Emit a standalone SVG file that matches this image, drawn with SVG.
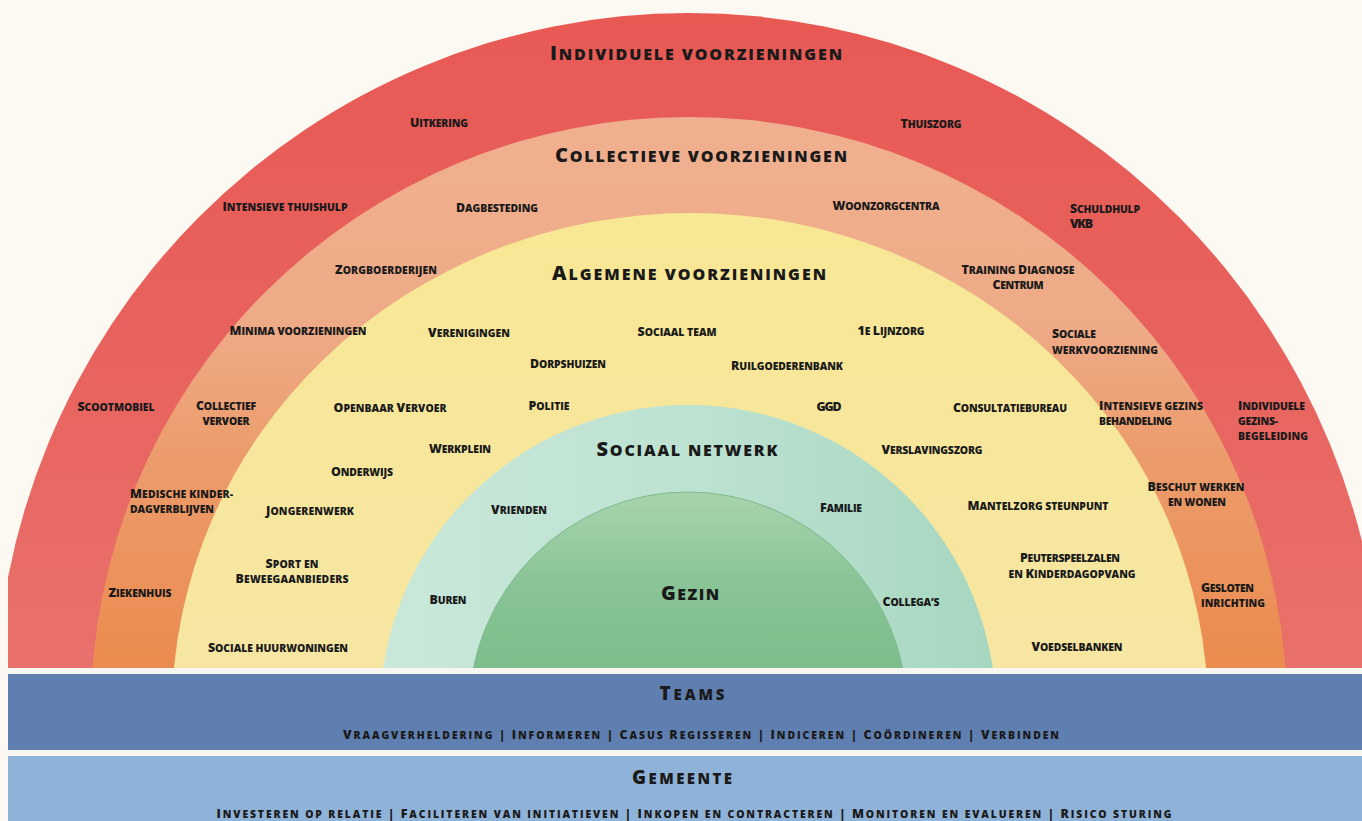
<svg xmlns="http://www.w3.org/2000/svg" width="1362" height="821" viewBox="0 0 1362 821">
<defs>
<style>
.t{font-family:"Open Sans","Liberation Sans",sans-serif;font-weight:800;text-transform:uppercase;fill:#1a1a1a;text-anchor:middle;font-size:10.4px}
.t .C{font-size:12.4px}
.l{text-anchor:start}
.h{font-size:16px}
.h .C{font-size:20px}
.m{font-size:15px}
.m .C{font-size:19px}
</style>
<clipPath id="clip"><rect x="8" y="0" width="1354" height="668"/></clipPath>
<linearGradient id="gRed" gradientUnits="userSpaceOnUse" x1="0" y1="13" x2="0" y2="668">
<stop offset="0" stop-color="#e85954"/><stop offset="0.5" stop-color="#e8625d"/><stop offset="1" stop-color="#e9716b"/>
</linearGradient>
<linearGradient id="gOr" gradientUnits="userSpaceOnUse" x1="0" y1="117" x2="0" y2="668">
<stop offset="0" stop-color="#f0b08f"/><stop offset="0.39" stop-color="#eeaa86"/><stop offset="0.6" stop-color="#ec9d6d"/><stop offset="1" stop-color="#eb8b4f"/>
</linearGradient>
<linearGradient id="gYe" gradientUnits="userSpaceOnUse" x1="0" y1="213" x2="0" y2="668">
<stop offset="0" stop-color="#f8e794"/><stop offset="1" stop-color="#f6e6a2"/>
</linearGradient>
<linearGradient id="gTe" gradientUnits="userSpaceOnUse" x1="381" y1="0" x2="997" y2="0">
<stop offset="0" stop-color="#c9e8da"/><stop offset="0.5" stop-color="#bde2d1"/><stop offset="1" stop-color="#a6d6c0"/>
</linearGradient>
<linearGradient id="gGr" gradientUnits="userSpaceOnUse" x1="0" y1="492" x2="0" y2="668">
<stop offset="0" stop-color="#a8d4ad"/><stop offset="0.5" stop-color="#8ac597"/><stop offset="1" stop-color="#7dbd8c"/>
</linearGradient>
</defs>
<rect x="0" y="0" width="1362" height="821" fill="#fcf9f2"/>
<rect x="8" y="668" width="1354" height="153" fill="#f7f6f1"/>

<g clip-path="url(#clip)">
<g id="individuele">
<ellipse cx="689" cy="712" rx="694" ry="699" fill="url(#gRed)"/>
</g>
<g id="collectieve">
<ellipse cx="689" cy="712" rx="598" ry="595" fill="url(#gOr)"/>
</g>
<g id="algemene">
<ellipse cx="690" cy="712" rx="518" ry="499" fill="url(#gYe)"/>
</g>
<g id="sociaal-netwerk">
<ellipse cx="688" cy="713" rx="308" ry="308" fill="url(#gTe)"/>
</g>
<g id="gezin">
<ellipse cx="688" cy="712" rx="219" ry="220" fill="url(#gGr)" stroke="#7db98b" stroke-width="1"/>
</g>
</g>

<g id="labels-individuele">
<text class="t h" x="696" y="60" textLength="292"><tspan class="C">I</tspan>ndividuele voorzieningen</text>
<text class="t" x="439" y="127" textLength="58"><tspan class="C">U</tspan>itkering</text>
<text class="t" x="931" y="128" textLength="61"><tspan class="C">T</tspan>huiszorg</text>
<text class="t" x="285" y="211" textLength="125"><tspan class="C">I</tspan>ntensieve thuishulp</text>
<text class="t l" x="1070" y="213" textLength="70"><tspan class="C">S</tspan>chuldhulp</text>
<text class="t l" x="1070" y="228" textLength="23"><tspan class="C">VKB</tspan></text>
<text class="t" x="116" y="411" textLength="77"><tspan class="C">S</tspan>cootmobiel</text>
<text class="t l" x="1238" y="410" textLength="67"><tspan class="C">I</tspan>ndividuele</text>
<text class="t l" x="1238" y="425" textLength="40">gezins-</text>
<text class="t l" x="1238" y="440" textLength="70">begeleiding</text>
<text class="t" x="140" y="597" textLength="63"><tspan class="C">Z</tspan>iekenhuis</text>
</g>

<g id="labels-collectieve">
<text class="t h" x="701" y="162" textLength="292"><tspan class="C">C</tspan>ollectieve voorzieningen</text>
<text class="t" x="497" y="212" textLength="82"><tspan class="C">D</tspan>agbesteding</text>
<text class="t" x="886" y="210" textLength="107"><tspan class="C">W</tspan>oonzorgcentra</text>
<text class="t" x="386" y="274" textLength="102"><tspan class="C">Z</tspan>orgboerderijen</text>
<text class="t" x="1018" y="274" textLength="113"><tspan class="C">T</tspan>raining <tspan class="C">D</tspan>iagnose</text>
<text class="t" x="1018" y="289" textLength="51"><tspan class="C">C</tspan>entrum</text>
<text class="t" x="298" y="335" textLength="137"><tspan class="C">M</tspan>inima voorzieningen</text>
<text class="t l" x="1052" y="338" textLength="44"><tspan class="C">S</tspan>ociale</text>
<text class="t l" x="1052" y="354" textLength="106">werkvoorziening</text>
<text class="t" x="226" y="410" textLength="60"><tspan class="C">C</tspan>ollectief</text>
<text class="t" x="226" y="425" textLength="47">vervoer</text>
<text class="t l" x="1099" y="410" textLength="104"><tspan class="C">I</tspan>ntensieve gezins</text>
<text class="t l" x="1099" y="425" textLength="73">behandeling</text>
<text class="t l" x="130" y="498" textLength="103"><tspan class="C">M</tspan>edische kinder-</text>
<text class="t l" x="130" y="513" textLength="84">dagverblijven</text>
<text class="t" x="1196" y="491" textLength="97"><tspan class="C">B</tspan>eschut werken</text>
<text class="t" x="1197" y="506" textLength="58">en wonen</text>
<text class="t l" x="1201" y="592" textLength="53"><tspan class="C">G</tspan>esloten</text>
<text class="t l" x="1201" y="607" textLength="64">inrichting</text>
</g>

<g id="labels-algemene">
<text class="t h" x="689" y="280" textLength="274"><tspan class="C">A</tspan>lgemene voorzieningen</text>
<text class="t" x="469" y="337" textLength="82"><tspan class="C">V</tspan>erenigingen</text>
<text class="t" x="677" y="336" textLength="79"><tspan class="C">S</tspan>ociaal team</text>
<text class="t" x="891" y="335" textLength="67"><tspan class="C">1</tspan>e <tspan class="C">L</tspan>ijnzorg</text>
<text class="t" x="568" y="368" textLength="76"><tspan class="C">D</tspan>orpshuizen</text>
<text class="t" x="787" y="370" textLength="112"><tspan class="C">R</tspan>uilgoederenbank</text>
<text class="t" x="390" y="412" textLength="113"><tspan class="C">O</tspan>penbaar <tspan class="C">V</tspan>ervoer</text>
<text class="t" x="549" y="410" textLength="41"><tspan class="C">P</tspan>olitie</text>
<text class="t" x="829" y="411" textLength="25"><tspan class="C">GGD</tspan></text>
<text class="t" x="1010" y="412" textLength="114"><tspan class="C">C</tspan>onsultatiebureau</text>
<text class="t" x="460" y="453" textLength="62"><tspan class="C">W</tspan>erkplein</text>
<text class="t" x="932" y="454" textLength="101"><tspan class="C">V</tspan>erslavingszorg</text>
<text class="t" x="362" y="476" textLength="62"><tspan class="C">O</tspan>nderwijs</text>
<text class="t" x="310" y="515" textLength="88"><tspan class="C">J</tspan>ongerenwerk</text>
<text class="t" x="1038" y="510" textLength="141"><tspan class="C">M</tspan>antelzorg steunpunt</text>
<text class="t" x="292" y="568" textLength="53"><tspan class="C">S</tspan>port en</text>
<text class="t" x="292" y="583" textLength="113"><tspan class="C">B</tspan>eweegaanbieders</text>
<text class="t" x="1070" y="562" textLength="100"><tspan class="C">P</tspan>euterspeelzalen</text>
<text class="t" x="1072" y="578" textLength="127">en <tspan class="C">K</tspan>inderdagopvang</text>
<text class="t" x="278" y="652" textLength="140"><tspan class="C">S</tspan>ociale huurwoningen</text>
<text class="t" x="1077" y="651" textLength="91"><tspan class="C">V</tspan>oedselbanken</text>
</g>

<g id="labels-sociaal-netwerk">
<text class="t h" x="687" y="456" textLength="181"><tspan class="C">S</tspan>ociaal netwerk</text>
<text class="t" x="519" y="514" textLength="56"><tspan class="C">V</tspan>rienden</text>
<text class="t" x="841" y="512" textLength="42"><tspan class="C">F</tspan>amilie</text>
<text class="t" x="448" y="604" textLength="37"><tspan class="C">B</tspan>uren</text>
<text class="t" x="911" y="606" textLength="57"><tspan class="C">C</tspan>ollega’s</text>
</g>

<g id="labels-gezin">
<text class="t h" x="690" y="600" textLength="58"><tspan class="C">G</tspan>ezin</text>
</g>

<g id="teams">
<rect x="8" y="674" width="1354" height="76" fill="#5f7fb0"/>
<text class="t m" x="692" y="700" textLength="65"><tspan class="C">T</tspan>eams</text>
<text class="t" x="701" y="739" textLength="716"><tspan class="C">V</tspan>raagverheldering <tspan class="C">|</tspan> <tspan class="C">I</tspan>nformeren <tspan class="C">|</tspan> <tspan class="C">C</tspan>asus <tspan class="C">R</tspan>egisseren <tspan class="C">|</tspan> <tspan class="C">I</tspan>ndiceren <tspan class="C">|</tspan> <tspan class="C">C</tspan>oördineren <tspan class="C">|</tspan> <tspan class="C">V</tspan>erbinden</text>
</g>

<g id="gemeente">
<rect x="8" y="756" width="1354" height="65" fill="#8fb2d8"/>
<text class="t m" x="682" y="784" textLength="100"><tspan class="C">G</tspan>emeente</text>
<text class="t" x="694" y="818" textLength="955"><tspan class="C">I</tspan>nvesteren op relatie <tspan class="C">|</tspan> <tspan class="C">F</tspan>aciliteren van initiatieven <tspan class="C">|</tspan> <tspan class="C">I</tspan>nkopen en contracteren <tspan class="C">|</tspan> <tspan class="C">M</tspan>onitoren en evalueren <tspan class="C">|</tspan> <tspan class="C">R</tspan>isico sturing</text>
</g>
</svg>
